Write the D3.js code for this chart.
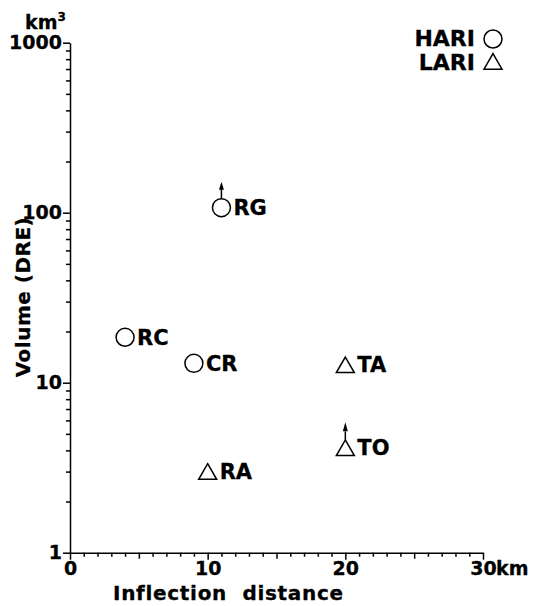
<!DOCTYPE html>
<html>
<head>
<meta charset="utf-8">
<script src="https://cdn.jsdelivr.net/npm/d3@7"></script>
<style>
    body { margin: 0; background: #fff; }
    text { font-family: "DejaVu Sans", sans-serif; font-weight: bold; fill: #000; stroke: #000; stroke-width: 0.3; }
</style>
</head>
<body>
<svg id="chart" width="536" height="606"></svg>
<script>
// caldera data
const names = ["RG", "RC", "CR", "RA", "TA", "TO"];
const distances = [11, 4, 9, 10, 20, 20];
const volumes = [107, 18.5, 13, 2.9, 12.3, 4.0];
const kinds = ["HARI", "HARI", "HARI", "LARI", "LARI", "LARI"];
const lowerBound = [true, false, false, false, false, true];

const xTicks = [0, 10, 20, 30];
const yTicks = [1, 10, 100, 1000];
const legendKinds = ["HARI", "LARI"];

const data = names.map((n, i) => ({
    name: n, dist: distances[i], vol: volumes[i], kind: kinds[i], arrow: lowerBound[i]
}));

const svg = d3.select('#chart');

const x = d3.scaleLinear().domain([0, 30]).range([70, 483]);
const y = d3.scaleLog().domain([1, 1000]).range([552.7, 42.7]);

const minorX = d3.range(1, 30).filter(d => d % 10 !== 0);
const minorY = [];
[1, 10, 100].forEach(dec => { for (let k = 2; k <= 9; k++) minorY.push(dec * k); });

// y axis
const yMinor = svg.append('g')
    .attr('transform', 'translate(70,0)')
    .call(d3.axisLeft(y).tickValues(minorY).tickSize(4).tickFormat(''));
yMinor.select('.domain').remove();

const yAxis = svg.append('g')
    .attr('transform', 'translate(70,0)')
    .call(d3.axisLeft(y).tickValues(yTicks).tickSize(7).tickSizeOuter(0).tickPadding(1).tickFormat(d3.format('d')))
    .attr('font-size', 19)
    .attr('font-family', null);

// x axis
const xMinor = svg.append('g')
    .attr('transform', 'translate(0,552.7)')
    .call(d3.axisBottom(x).tickValues(minorX).tickSize(4).tickFormat(''));
xMinor.select('.domain').remove();
xMinor.selectAll('.tick line').filter(d => d % 5 === 0).attr('y2', 6);

const xAxis = svg.append('g')
    .attr('transform', 'translate(0,552.7)')
    .call(d3.axisBottom(x).tickValues(xTicks).tickSize(7).tickSizeOuter(0).tickPadding(2).tickFormat(d3.format('d')))
    .attr('font-size', 19)
    .attr('font-family', null);

svg.selectAll('.domain, .tick line').attr('stroke', '#000').attr('stroke-width', 1.5);

svg.append('text')
    .attr('x', x(30) + 13)
    .attr('y', 552.7 + 9)
    .attr('dy', '0.71em')
    .attr('font-size', 19)
    .text('km');

svg.append('text')
    .attr('x', 25).attr('y', 29)
    .attr('font-size', 19)
    .text('km')
    .append('tspan')
    .attr('font-size', 12)
    .attr('dy', -8)
    .text('3');

// axis titles
svg.append('text')
    .attr('x', 113).attr('y', 600)
    .attr('font-size', 20)
    .attr('letter-spacing', 0.7)
    .attr('xml:space', 'preserve')
    .text('Inflection  distance');

svg.append('text')
    .attr('transform', 'translate(30,297) rotate(-90)')
    .attr('text-anchor', 'middle')
    .attr('font-size', 20)
    .attr('letter-spacing', 0.5)
    .text('Volume (DRE)');

// markers
const tri = d3.symbol().type(d3.symbolTriangle).size(140);

function drawMarker(g, kind) {
    if (kind === 'HARI') {
        g.append('circle').attr('r', 9);
    } else {
        g.append('path').attr('d', tri());
    }
    g.selectAll('circle, path')
        .attr('fill', 'none')
        .attr('stroke', '#000')
        .attr('stroke-width', 1.5);
}

const pts = svg.selectAll('.pt')
    .data(data)
    .enter()
    .append('g')
    .classed('pt', true)
    .attr('transform', d => `translate(${x(d.dist)},${y(d.vol)})`);

pts.each(function (d) { drawMarker(d3.select(this), d.kind); });

pts.append('text')
    .attr('x', 12)
    .attr('y', d => d.kind === 'HARI' ? 0 : -2.5)
    .attr('dy', '0.36em')
    .attr('font-size', 21)
    .text(d => d.name);

// lower-bound arrows
const arrows = pts.filter(d => d.arrow);
arrows.append('line')
    .attr('x1', 0).attr('x2', 0)
    .attr('y1', d => d.kind === 'HARI' ? -9 : -10.5)
    .attr('y2', -19)
    .attr('stroke', '#000')
    .attr('stroke-width', 1.5);
arrows.append('path')
    .attr('d', d => d.kind === 'HARI' ? 'M0,-26L-2.5,-18L2.5,-18Z' : 'M0,-28L-2.5,-19L2.5,-19Z')
    .attr('fill', '#000');

// legend
const legend = svg.selectAll('.legend')
    .data(legendKinds)
    .enter()
    .append('g')
    .classed('legend', true)
    .attr('transform', (d, i) => `translate(0,${i * 24})`);

legend.append('text')
    .attr('x', 475).attr('y', 46)
    .attr('text-anchor', 'end')
    .attr('font-size', 22)
    .text(d => d);

legend.append('g')
    .attr('transform', (d, i) => `translate(493,${i === 0 ? 39 : 40})`)
    .each(function (d) { drawMarker(d3.select(this), d); });
</script>
</body>
</html>
